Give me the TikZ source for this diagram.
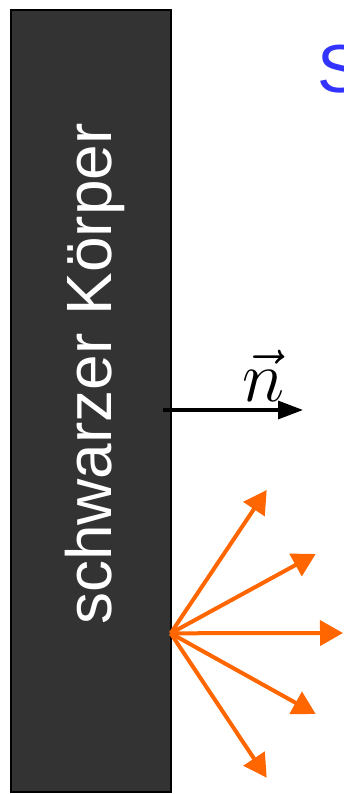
\RequirePackage{fix-cm}
\documentclass[tikz,border=0pt]{standalone}
\usepackage{fontspec}
\setmainfont{Liberation Sans}
\usetikzlibrary{arrows.meta}
\definecolor{bodygray}{HTML}{333333}
\definecolor{rayorange}{HTML}{FF6600}
\definecolor{titleblue}{HTML}{3333FF}
\begin{document}
\begin{tikzpicture}[x=1pt,y=1pt,
  ray/.style={draw=rayorange,line width=4pt,-{Triangle[length=23pt,width=25pt]}},
  normalarrow/.style={draw=black,line width=3.3pt,-{Triangle[length=25pt,width=18pt]}}]
\useasboundingbox (0,0) rectangle (343,794);
\clip (0,0) rectangle (343,794);
% black body
\draw[fill=bodygray,draw=black,line width=2pt] (11,784) rectangle (171,1.5);
\node[rotate=90,anchor=base west,inner sep=0pt,text=white,font=\fontsize{64}{70}\selectfont] (lbl) at (111.7,169) {schwarzer Körper};
% blue title (cut off at the right edge, as in the reference)
\node[anchor=base west,inner sep=0pt,text=titleblue,font=\fontsize{68}{74}\selectfont] (title) at (317,701) {S};
% normal vector
\coordinate (nstart) at (163,384);
\coordinate (nend) at (303,384);
\draw[normalarrow] (nstart) -- (nend);
\node[anchor=base,inner sep=0pt,font=\fontsize{72}{80}\selectfont] (nlabel) at (264,392) {$\vec{n}$};
% emitted rays
\coordinate (o) at (170.7,160.7);
\coordinate (r1) at (266.7,304);
\coordinate (r2) at (315.7,240);
\coordinate (r3) at (343,161);
\coordinate (r4) at (315.7,80);
\coordinate (r5) at (266.7,16.3);
\foreach \t in {r1,r2,r3,r4,r5} \draw[ray] (o) -- (\t);
\end{tikzpicture}
\end{document}
